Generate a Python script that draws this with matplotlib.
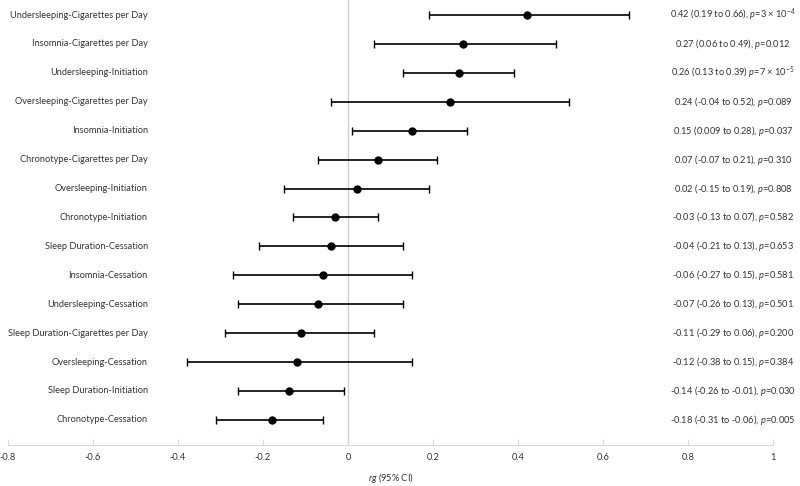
import numpy as np
import matplotlib
matplotlib.use("Agg")
import matplotlib.pyplot as plt

plt.rcParams['font.family'] = ['Lato', 'DejaVu Sans']
plt.rcParams['mathtext.fontset'] = 'custom'
plt.rcParams['mathtext.rm'] = 'Lato'
plt.rcParams['mathtext.it'] = 'Lato:italic'

# trait pairs, top to bottom
labels = [
    "Undersleeping-Cigarettes per Day",
    "Insomnia-Cigarettes per Day",
    "Undersleeping-Initiation",
    "Oversleeping-Cigarettes per Day",
    "Insomnia-Initiation",
    "Chronotype-Cigarettes per Day",
    "Oversleeping-Initiation",
    "Chronotype-Initiation",
    "Sleep Duration-Cessation",
    "Insomnia-Cessation",
    "Undersleeping-Cessation",
    "Sleep Duration-Cigarettes per Day",
    "Oversleeping-Cessation",
    "Sleep Duration-Initiation",
    "Chronotype-Cessation",
]
rg = [0.42, 0.27, 0.26, 0.24, 0.15, 0.07, 0.02, -0.03, -0.04, -0.06, -0.07, -0.11, -0.12, -0.14, -0.18]
ci_low = [0.19, 0.06, 0.13, -0.04, 0.009, -0.07, -0.15, -0.13, -0.21, -0.27, -0.26, -0.29, -0.38, -0.26, -0.31]
ci_high = [0.66, 0.49, 0.39, 0.52, 0.28, 0.21, 0.19, 0.07, 0.13, 0.15, 0.13, 0.06, 0.15, -0.01, -0.06]

P = r"$\it{p}$"
annot = [
    "0.42 (0.19 to 0.66), " + P + r"=3 × 10$^{-4}$",
    "0.27 (0.06 to 0.49), " + P + "=0.012",
    "0.26 (0.13 to 0.39) " + P + r"=7 × 10$^{-5}$",
    "0.24 (-0.04 to 0.52), " + P + "=0.089",
    "0.15 (0.009 to 0.28), " + P + "=0.037",
    "0.07 (-0.07 to 0.21), " + P + "=0.310",
    "0.02 (-0.15 to 0.19), " + P + "=0.808",
    "-0.03 (-0.13 to 0.07), " + P + "=0.582",
    "-0.04 (-0.21 to 0.13), " + P + "=0.653",
    "-0.06 (-0.27 to 0.15), " + P + "=0.581",
    "-0.07 (-0.26 to 0.13), " + P + "=0.501",
    "-0.11 (-0.29 to 0.06), " + P + "=0.200",
    "-0.12 (-0.38 to 0.15), " + P + "=0.384",
    "-0.14 (-0.26 to -0.01), " + P + "=0.030",
    "-0.18 (-0.31 to -0.06), " + P + "=0.005",
]

rg = np.array(rg)
lo = np.array(ci_low)
hi = np.array(ci_high)
ypos = np.arange(len(labels))[::-1]

fig = plt.figure(figsize=(8, 4.86), dpi=100)
ax = fig.add_axes([8/800, 1 - 445/486, 765/800, 445/486])

ax.axvline(0, color='#d0d0d0', lw=1, zorder=0)
ax.errorbar(rg, ypos, xerr=[rg - lo, hi - rg], fmt='o', color='black',
            ms=5, capsize=3, elinewidth=1.2, capthick=1)

fs = 6.7
for y, lab, txt in zip(ypos, labels, annot):
    ax.text(-0.471, y, lab, ha='right', va='center', fontsize=fs, color='#333333')
    ax.text(0.906, y, txt, ha='center', va='center', fontsize=fs, color='#333333')

ax.set_xlim(-0.8, 1.0)
ax.set_ylim(-0.87, 14.52)
ax.set_xticks(np.arange(-0.8, 1.01, 0.2))
ax.set_xticklabels(["-0.8", "-0.6", "-0.4", "-0.2", "0", "0.2", "0.4", "0.6", "0.8", "1"])
ax.set_yticks([])
for s in ['top', 'right', 'left']:
    ax.spines[s].set_visible(False)
ax.spines['bottom'].set_color('#d9d9d9')
ax.tick_params(axis='x', direction='in', length=4, color='#d9d9d9',
               labelsize=fs, labelcolor='#333333', pad=6)
ax.set_xlabel(r"$\it{rg}$ (95% CI)", fontsize=fs, color='#333333', labelpad=6)

fig.savefig("out.png", dpi=100)
